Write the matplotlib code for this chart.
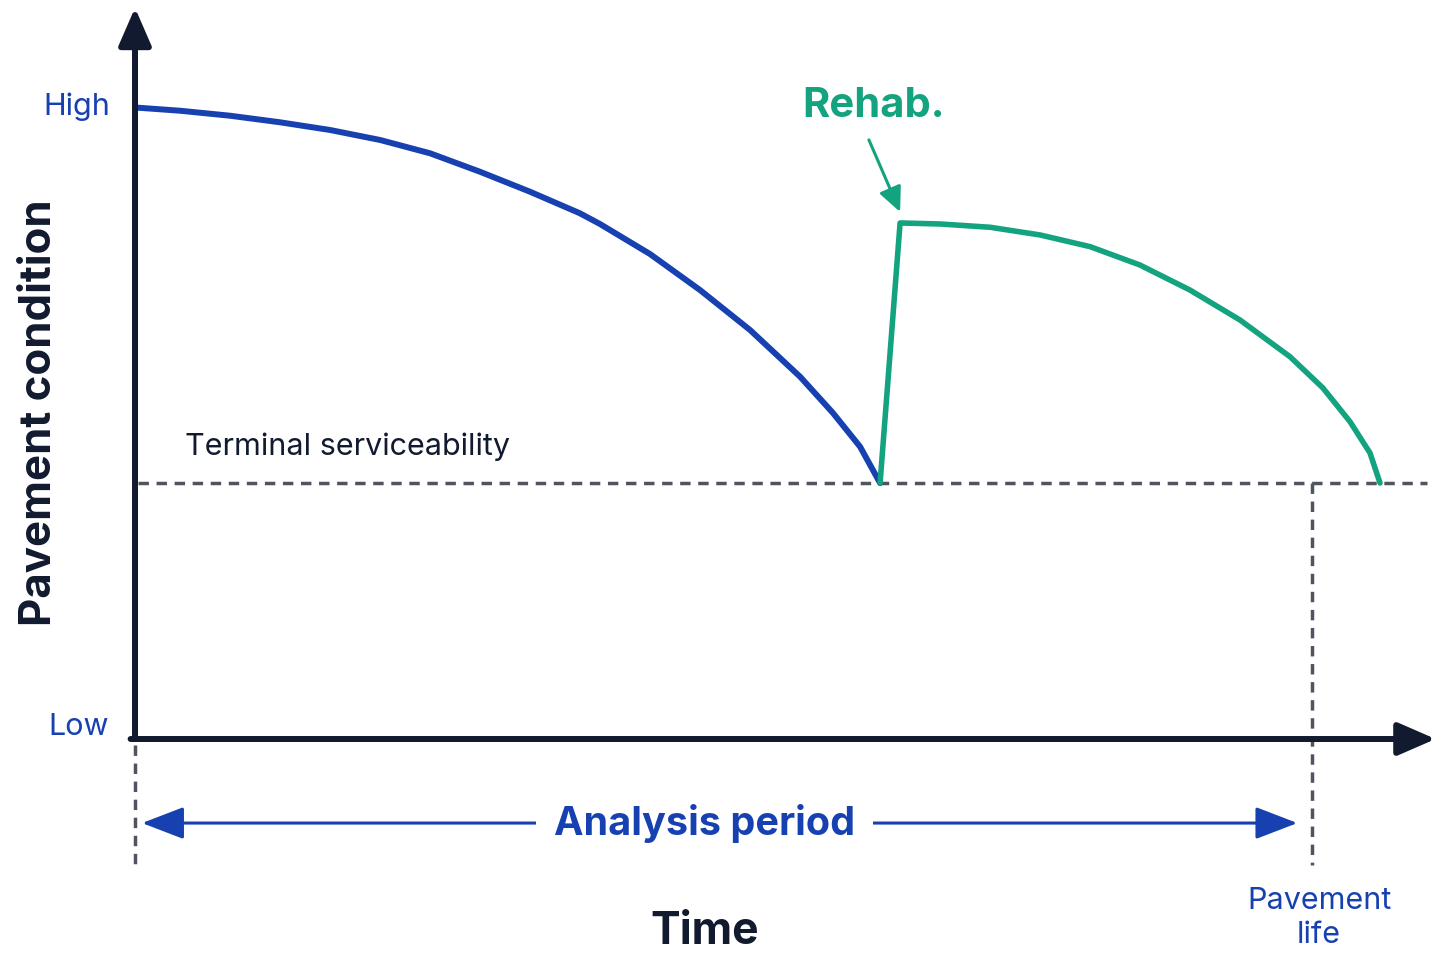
import numpy as np
import matplotlib.pyplot as plt

plt.rcParams['font.family'] = ['Inter', 'DejaVu Sans']

# condition before rehab (time in years, condition 0=low .. 100=high)
orig_t = [0.07, 1.53, 3.23, 4.93, 6.63, 8.33, 10.03, 11.72, 13.42, 15.12,
          15.80, 17.50, 19.20, 20.90, 22.60, 23.72, 24.64, 25.32]
orig_c = [99.9, 99.41, 98.62, 97.58, 96.36, 94.78, 92.67, 89.76, 86.60, 83.18,
          81.49, 76.74, 71.04, 64.72, 57.33, 51.58, 46.25, 40.5]
# after rehab (starts at terminal point, jumps up, then decays again)
rehab_t = [25.32, 26.0, 27.36, 29.06, 30.76, 32.46, 34.15, 35.85, 37.55,
           39.25, 40.37, 41.29, 41.97, 42.31]
rehab_c = [40.5, 81.65, 81.49, 80.97, 79.75, 77.90, 75.0, 71.04, 66.30,
           60.49, 55.54, 50.21, 45.25, 40.5]
terminal = 40.5
pav_life = 40.0

blue = '#1740b0'
green = '#13a37e'
navy = '#121a2f'
grey = '#50545e'
dash = (0, (3.0, 2.2))

fig = plt.figure(figsize=(14.48, 9.65), dpi=100)
ax = fig.add_axes([0, 0, 1, 1])
ax.set_xlim(-4.588, 44.62)
ax.set_ylim(-35.76, 116.93)
ax.axis('off')

# terminal serviceability + pavement life lines
ax.plot([0.1, 43.9], [terminal, terminal], color=grey, lw=2.5, ls=dash)
ax.plot([pav_life, pav_life], [terminal, -19.9], color=grey, lw=2.5, ls=dash)
ax.plot([0, 0], [-1, -19.9], color=grey, lw=2.5, ls=dash)

# curves
ax.plot(orig_t, orig_c, color=blue, lw=4.3, solid_capstyle='round',
        solid_joinstyle='round')
ax.plot(rehab_t, rehab_c, color=green, lw=4.0, solid_capstyle='round',
        solid_joinstyle='round')

# axes with arrows
ax.annotate('', xy=(0, 115.7), xytext=(0, 0),
            arrowprops=dict(arrowstyle='-|>,head_length=1.15,head_width=0.5', lw=4.3,
                            color=navy, shrinkA=0, shrinkB=0, mutation_scale=20))
ax.annotate('', xy=(44.2, 0), xytext=(-0.15, 0),
            arrowprops=dict(arrowstyle='-|>,head_length=1.15,head_width=0.5', lw=4.3,
                            color=navy, shrinkA=0, shrinkB=0, mutation_scale=20))

# analysis period arrow
ax.annotate('', xy=(0.24, -13.3), xytext=(39.5, -13.3),
            arrowprops=dict(arrowstyle='<|-|>,head_length=1.3,head_width=0.5', lw=2.2,
                            color=blue, shrinkA=0, shrinkB=0, mutation_scale=20))
ax.text(19.35, -13.3, 'Analysis period', color=blue, fontsize=28.5, fontweight='bold',
        ha='center', va='center',
        bbox=dict(boxstyle='square,pad=0.45', fc='white', ec='none'))

# rehab annotation
ax.annotate('', xy=(26.0, 83.4), xytext=(24.94, 94.8),
            arrowprops=dict(arrowstyle='-|>,head_length=0.75,head_width=0.35', lw=2.2,
                            color=green, shrinkA=0, shrinkB=0, mutation_scale=20))
ax.text(25.1, 100.2, 'Rehab.', color=green, fontsize=30, fontweight='bold',
        ha='center', va='center')

# labels
ax.text(-0.85, 100, 'High', color=blue, fontsize=22, ha='right', va='center')
ax.text(-0.9, 1.9, 'Low', color=blue, fontsize=22, ha='right', va='center')
ax.text(1.7, 46.2, 'Terminal serviceability', color=navy, fontsize=22,
        ha='left', va='center')
ax.text(-3.23, 51.7, 'Pavement condition', color=navy, fontsize=31.5, fontweight='bold',
        rotation=90, ha='center', va='center')
ax.text(19.37, -30.5, 'Time', color=navy, fontsize=32, fontweight='bold',
        ha='center', va='center')
ax.text(40.24, -28.3, 'Pavement\nlife', color=blue, fontsize=22, ha='center',
        va='center', linespacing=1.3)

fig.savefig('out.png', dpi=100, facecolor='white')
